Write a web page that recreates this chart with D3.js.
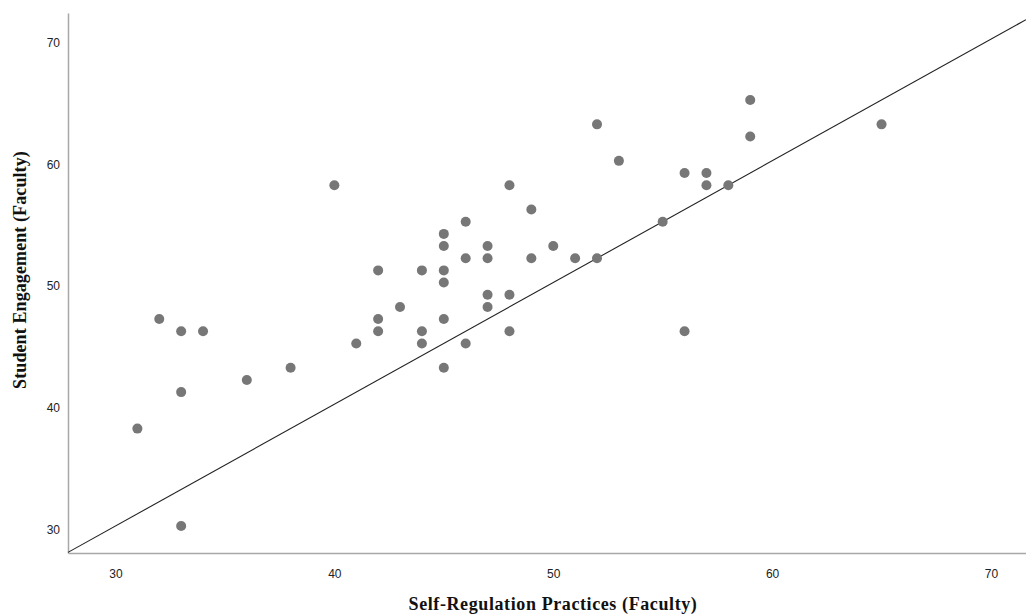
<!DOCTYPE html>
<html>
<head>
<meta charset="utf-8">
<script src="https://cdn.jsdelivr.net/npm/d3@7"></script>
<style>
  body { margin: 0; background: #fff; }
  svg { display: block; }
</style>
</head>
<body>
<svg id="svg"></svg>
<script>
// Self-Regulation Practices (x) vs Student Engagement (y), faculty
const selfReg = [31, 32, 33, 33, 33, 34, 36, 38, 40, 41, 42, 42, 42, 43, 44, 44, 44,
    45, 45, 45, 45, 45, 45, 46, 46, 46, 47, 47, 47, 47, 48, 48, 48, 49, 49, 50,
    51, 52, 52, 53, 55, 56, 56, 57, 57, 58, 59, 59, 65];
const engagement = [38, 47, 46, 41, 30, 46, 42, 43, 58, 45, 51, 47, 46, 48, 51, 46, 45,
    54, 53, 51, 50, 47, 43, 55, 52, 45, 53, 52, 49, 48, 58, 49, 46, 56, 52, 53,
    52, 52, 63, 60, 55, 59, 46, 59, 58, 58, 65, 62, 63];
const xTicks = [30, 40, 50, 60, 70];
const yTicks = [30, 40, 50, 60, 70];

const W = 1026, H = 616;
const plotL = 68, plotR = 1026, plotT = 13, plotB = 553;

const svg = d3.select("#svg").attr("width", W).attr("height", H);

const x = d3.scaleLinear().domain([27.83, 71.6]).range([plotL, plotR]);
const y = d3.scaleLinear().domain([27.78, 72.15]).range([plotB, plotT]);

// x axis
const gx = svg.append("g")
    .attr("transform", `translate(0,${plotB})`)
    .call(d3.axisBottom(x).tickValues(xTicks).tickSize(0).tickPadding(16));
gx.select(".domain").attr("stroke", "#a8a8a8").attr("stroke-width", 1.5);
gx.selectAll("text")
    .style("font-family", "'Liberation Sans', Arial, sans-serif")
    .style("font-size", "12px")
    .style("fill", "#222");

// y axis
const gy = svg.append("g")
    .attr("transform", `translate(${plotL},0)`)
    .call(d3.axisLeft(y).tickValues(yTicks).tickSize(0).tickPadding(8));
gy.select(".domain").attr("stroke", "#a8a8a8").attr("stroke-width", 1.5);
gy.selectAll("text")
    .attr("dy", "0.6em")
    .style("font-family", "'Liberation Sans', Arial, sans-serif")
    .style("font-size", "12px")
    .style("fill", "#222");

// reference line y = x
const lo = Math.max(x.domain()[0], y.domain()[0]);
const hi = Math.min(x.domain()[1], y.domain()[1]);
svg.append("line")
    .attr("x1", x(lo))
    .attr("y1", y(lo))
    .attr("x2", x(hi))
    .attr("y2", y(hi))
    .attr("stroke", "#222")
    .attr("stroke-width", 1.1);

// points
svg.append("g")
    .selectAll("circle")
    .data(selfReg.map((v, i) => [v, engagement[i]]))
    .join("circle")
    .attr("cx", d => x(d[0]))
    .attr("cy", d => y(d[1]))
    .attr("r", 5)
    .attr("fill", "#777");

// axis titles
svg.append("text")
    .attr("x", 553)
    .attr("y", 610)
    .attr("text-anchor", "middle")
    .style("font-family", "'Liberation Serif', 'Times New Roman', serif")
    .style("font-weight", "bold")
    .style("font-size", "18px")
    .style("letter-spacing", "0.6px")
    .style("fill", "#111")
    .text("Self-Regulation Practices (Faculty)");

svg.append("text")
    .attr("transform", "translate(26,270) rotate(-90)")
    .attr("text-anchor", "middle")
    .style("font-family", "'Liberation Serif', 'Times New Roman', serif")
    .style("font-weight", "bold")
    .style("font-size", "18px")
    .style("letter-spacing", "0.1px")
    .style("fill", "#111")
    .text("Student Engagement (Faculty)");
</script>
</body>
</html>
